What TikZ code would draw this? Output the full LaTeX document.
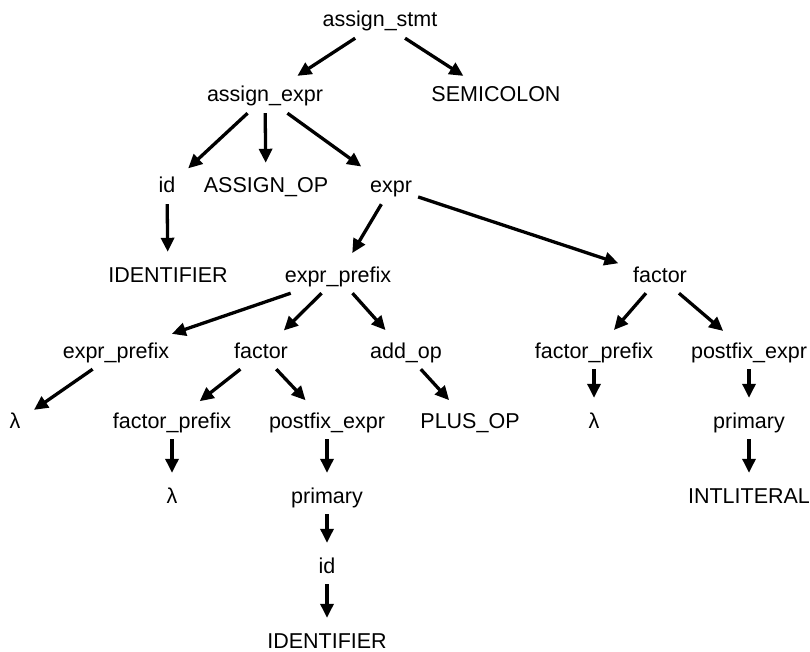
\documentclass[tikz,border=0pt]{standalone}
\usepackage{fontspec}
\setmainfont{Liberation Sans}
\usetikzlibrary{arrows.meta}
\begin{document}
\begin{tikzpicture}[x=1pt,y=-1pt,
  tn/.style={anchor=base, inner xsep=6pt, inner ysep=6pt, text height=15pt, text depth=5pt,
    font=\fontsize{21.5}{25}\selectfont},
  edge/.style={line width=3.3pt, -{Triangle[length=14pt,width=13pt]}, shorten >=9pt}]
\useasboundingbox (0,0) rectangle (810,652);
\node[tn] (as) at (380,27) {assign\_stmt};
\node[tn] (ae) at (265,102) {assign\_expr};
\node[tn] (semi) at (496,102) {SEMICOLON};
\node[tn] (id1) at (167,193) {id};
\node[tn] (aop) at (266,193) {ASSIGN\_OP};
\node[tn] (ex) at (391,193) {expr};
\node[tn] (ident1) at (168,282) {IDENTIFIER};
\node[tn] (ep) at (338,282) {expr\_prefix};
\node[tn] (facR) at (660,282) {factor};
\node[tn] (epL) at (116,358) {expr\_prefix};
\node[tn] (facM) at (261,358) {factor};
\node[tn] (addop) at (406,358) {add\_op};
\node[tn] (fpR) at (594,358) {factor\_prefix};
\node[tn] (pfR) at (749,358) {postfix\_expr};
\node[tn] (lamL) at (15,428) {λ};
\node[tn] (fpM) at (172,428) {factor\_prefix};
\node[tn] (pfM) at (327,428) {postfix\_expr};
\node[tn] (plus) at (470,428) {PLUS\_OP};
\node[tn] (lamR) at (594,428) {λ};
\node[tn] (prR) at (749,428) {primary};
\node[tn] (lamM) at (172,503) {λ};
\node[tn] (prM) at (327,503) {primary};
\node[tn] (intl) at (749,503) {INTLITERAL};
\node[tn] (id2) at (327,573) {id};
\node[tn] (ident2) at (327,648) {IDENTIFIER};
\draw[edge] (as) -- (ae);
\draw[edge] (as) -- (semi);
\draw[edge] (ae) -- (id1);
\draw[edge] (ae) -- (aop);
\draw[edge] (ae) -- (ex);
\draw[edge] (id1) -- (ident1);
\draw[edge] (ex) -- (ep);
\draw[edge] (ex) -- (facR);
\draw[edge] (ep) -- (epL);
\draw[edge] (ep) -- (facM);
\draw[edge] (ep) -- (addop);
\draw[edge] (epL) -- (lamL);
\draw[edge] (facM) -- (fpM);
\draw[edge] (facM) -- (pfM);
\draw[edge] (fpM) -- (lamM);
\draw[edge] (pfM) -- (prM);
\draw[edge] (prM) -- (id2);
\draw[edge] (id2) -- (ident2);
\draw[edge] (addop) -- (plus);
\draw[edge] (facR) -- (fpR);
\draw[edge] (facR) -- (pfR);
\draw[edge] (fpR) -- (lamR);
\draw[edge] (pfR) -- (prR);
\draw[edge] (prR) -- (intl);
\end{tikzpicture}
\end{document}
